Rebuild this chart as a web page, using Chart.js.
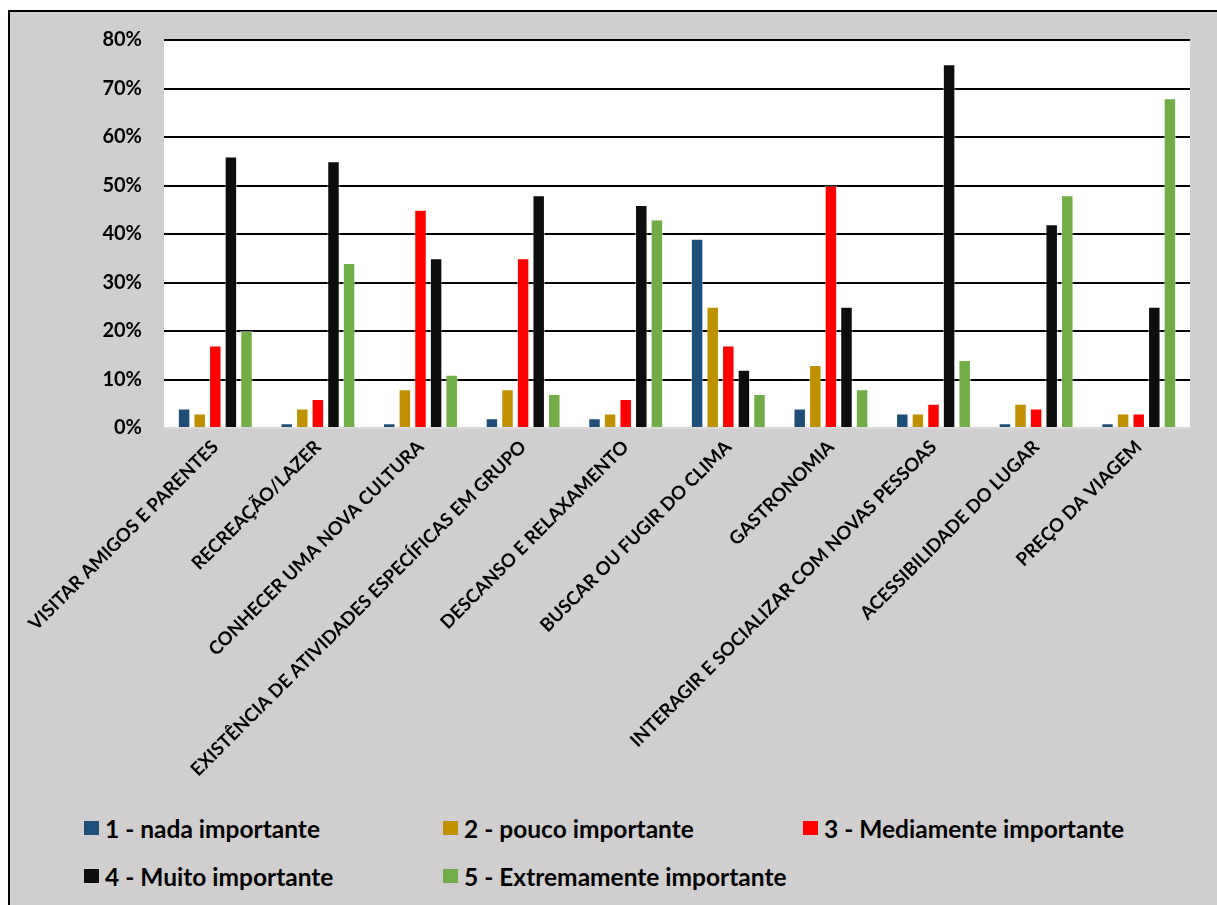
<!DOCTYPE html>
<html>
<head>
<meta charset="utf-8">
<script src="https://cdn.jsdelivr.net/npm/chart.js"></script>
<style>
  body { margin: 0; background: #fff; width: 1217px; height: 905px; overflow: hidden; position: relative; font-family: Lato, "Open Sans", sans-serif; }
  #frame { position: absolute; left: 8px; top: 10px; width: 1230px; height: 920px; background: #d0cece; border: 2px solid #000; box-sizing: border-box; }
  #wrap { position: absolute; left: 0; top: 0; width: 1217px; height: 800px; }
  #legend { position: absolute; left: 84px; top: 828px; width: 1100px; }
  .item { position: absolute; display: flex; align-items: center; height: 0; font-weight: bold; font-size: 24.5px; color: #000; white-space: nowrap; }
  .box { width: 15px; height: 14px; margin-right: 6px; flex: none; }
</style>
</head>
<body>
<div id="frame"></div>
<div id="wrap"><canvas id="barChart"></canvas></div>
<div id="legend"></div>
<script>
// categories and series (percent)
var categorias = ['VISITAR AMIGOS E PARENTES', 'RECREAÇÃO/LAZER', 'CONHECER UMA NOVA CULTURA',
  'EXISTÊNCIA DE ATIVIDADES ESPECÍFICAS EM GRUPO', 'DESCANSO E RELAXAMENTO', 'BUSCAR OU FUGIR DO CLIMA',
  'GASTRONOMIA', 'INTERAGIR E SOCIALIZAR COM NOVAS PESSOAS', 'ACESSIBILIDADE DO LUGAR', 'PREÇO DA VIAGEM'];
var nadaImportante      = [4, 1, 1, 2, 2, 39, 4, 3, 1, 1];
var poucoImportante     = [3, 4, 8, 8, 3, 25, 13, 3, 5, 3];
var mediamente          = [17, 6, 45, 35, 6, 17, 50, 5, 4, 3];
var muitoImportante     = [56, 55, 35, 48, 46, 12, 25, 75, 42, 25];
var extremamente        = [20, 34, 11, 7, 43, 7, 8, 14, 48, 68];
var nomesSeries = ['1 - nada importante', '2 - pouco importante', '3 - Mediamente importante',
  '4 - Muito importante', '5 - Extremamente importante'];
var cores = ['#1f4e79', '#bf9000', '#ff0000', '#0d0d0d', '#70ad47'];

document.addEventListener('DOMContentLoaded', function () {
  var valores = [nadaImportante, poucoImportante, mediamente, muitoImportante, extremamente];
  var datasets = valores.map(function (v, i) {
    return {
      label: nomesSeries[i],
      data: v,
      backgroundColor: cores[i],
      borderColor: 'rgba(255,255,255,0.5)',
      borderWidth: 1,
      categoryPercentage: 0.76,
      barPercentage: 0.8
    };
  });

  // white plot area
  var plotBg = {
    id: 'plotBg',
    beforeDraw: function (chart) {
      var a = chart.chartArea, c = chart.ctx;
      c.save();
      c.fillStyle = '#ffffff';
      c.fillRect(a.left, a.top, a.right - a.left, a.bottom - a.top);
      c.restore();
    }
  };

  var ctx = document.getElementById('barChart').getContext('2d');
  var chart = new Chart(ctx, {
    type: 'bar',
    data: { labels: categorias, datasets: datasets },
    options: {
      responsive: true,
      maintainAspectRatio: false,
      animation: false,
      layout: { padding: { top: 40, right: 27, left: 0, bottom: 0 } },
      plugins: { legend: { display: false }, tooltip: { enabled: false } },
      scales: {
        x: {
          grid: { display: false, drawTicks: false },
          border: { display: true, color: '#d9d9d9', width: 2 },
          ticks: {
            maxRotation: 45, minRotation: 45, autoSkip: false, padding: 8,
            color: '#000', font: { family: 'Lato', weight: 'bold', size: 18.5 }
          },
          afterFit: function (axis) { axis.height = 372; }
        },
        y: {
          min: 0, max: 80,
          grid: {
            drawTicks: false,
            lineWidth: 2,
            color: function (c) { return c.tick && c.tick.value === 0 ? '#d9d9d9' : '#000'; }
          },
          border: { display: false },
          ticks: {
            stepSize: 10, padding: 22, color: '#000',
            font: { family: 'Lato', weight: 'bold', size: 20 },
            callback: function (v) { return v + '%'; }
          },
          afterFit: function (axis) { axis.width = 164; }
        }
      }
    },
    plugins: [plotBg]
  });

  // legend built from the chart's datasets
  var posicoes = [[0, 0], [359, 0], [719, 0], [0, 48], [359, 48]];
  var legend = document.getElementById('legend');
  chart.data.datasets.forEach(function (ds, i) {
    var el = document.createElement('div');
    el.className = 'item';
    el.style.left = posicoes[i][0] + 'px';
    el.style.top = posicoes[i][1] + 'px';
    el.innerHTML = '<span class="box" style="background:' + ds.backgroundColor + '"></span><span>' + ds.label + '</span>';
    legend.appendChild(el);
  });
});
</script>
</body>
</html>
